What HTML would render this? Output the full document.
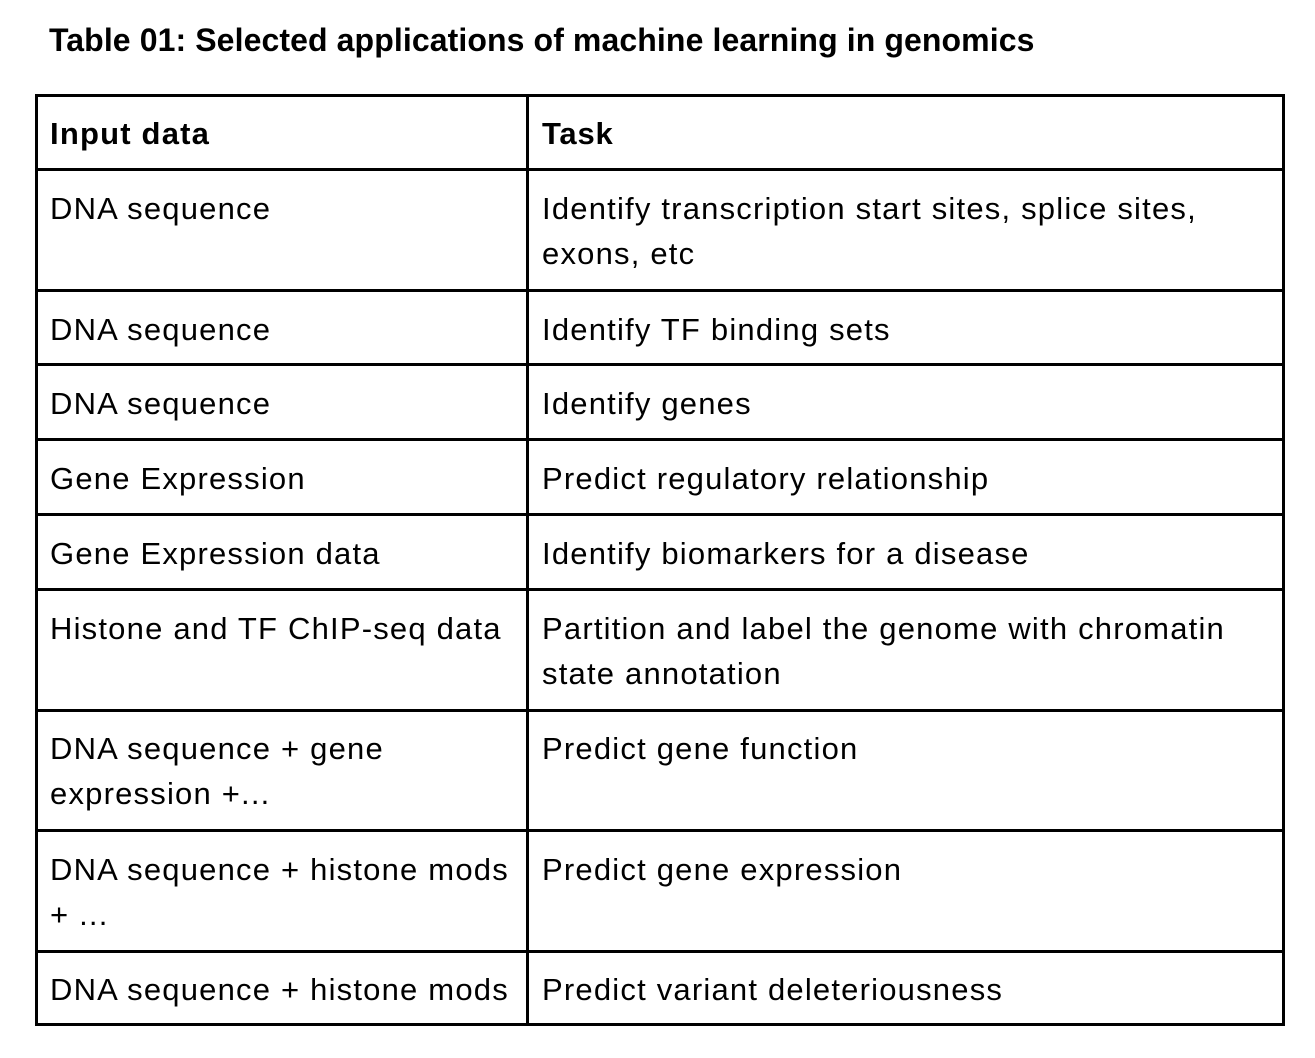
<!DOCTYPE html>
<html><head><meta charset="utf-8"><style>
body{margin:0;width:1315px;height:1058px;background:#fff;position:relative;overflow:hidden;font-family:"Liberation Sans",sans-serif;color:#000}
.t{position:absolute;font-size:31px;line-height:45px;white-space:nowrap;letter-spacing:1.2px}
.h{position:absolute;background:#000;height:3px;left:35px;width:1250px}
.v{position:absolute;background:#000;width:3px;top:95px;height:931px}
</style></head><body>
<div class="t" style="left:49px;top:18px;font-weight:bold;font-size:32px;letter-spacing:0.1px">Table 01: Selected applications of machine learning in genomics</div>
<div class="h" style="top:94px"></div>
<div class="h" style="top:168px"></div>
<div class="h" style="top:289px"></div>
<div class="h" style="top:363px"></div>
<div class="h" style="top:438px"></div>
<div class="h" style="top:513px"></div>
<div class="h" style="top:588px"></div>
<div class="h" style="top:709px"></div>
<div class="h" style="top:829px"></div>
<div class="h" style="top:950px"></div>
<div class="h" style="top:1023px"></div>
<div class="v" style="left:35px"></div>
<div class="v" style="left:526px"></div>
<div class="v" style="left:1282px"></div>

<div class="t" style="left:50px;top:111px;font-weight:bold;letter-spacing:1.2px">Input data</div>
<div class="t" style="left:542px;top:111px;font-weight:bold;letter-spacing:0.8px">Task</div>

<div class="t" style="left:50px;top:186px">DNA sequence</div>
<div class="t" style="left:542px;top:186px">Identify transcription start sites, splice sites,<br>exons, etc</div>

<div class="t" style="left:50px;top:307px">DNA sequence</div>
<div class="t" style="left:542px;top:307px">Identify TF binding sets</div>

<div class="t" style="left:50px;top:381px">DNA sequence</div>
<div class="t" style="left:542px;top:381px">Identify genes</div>

<div class="t" style="left:50px;top:456px">Gene Expression</div>
<div class="t" style="left:542px;top:456px">Predict regulatory relationship</div>

<div class="t" style="left:50px;top:531px">Gene Expression data</div>
<div class="t" style="left:542px;top:531px">Identify biomarkers for a disease</div>

<div class="t" style="left:50px;top:606px">Histone and TF ChIP-seq data</div>
<div class="t" style="left:542px;top:606px">Partition and label the genome with chromatin<br>state annotation</div>

<div class="t" style="left:50px;top:726px">DNA sequence + gene<br>expression +...</div>
<div class="t" style="left:542px;top:726px">Predict gene function</div>

<div class="t" style="left:50px;top:847px">DNA sequence + histone mods<br>+ ...</div>
<div class="t" style="left:542px;top:847px">Predict gene expression</div>

<div class="t" style="left:50px;top:967px">DNA sequence + histone mods</div>
<div class="t" style="left:542px;top:967px">Predict variant deleteriousness</div>
</body></html>
